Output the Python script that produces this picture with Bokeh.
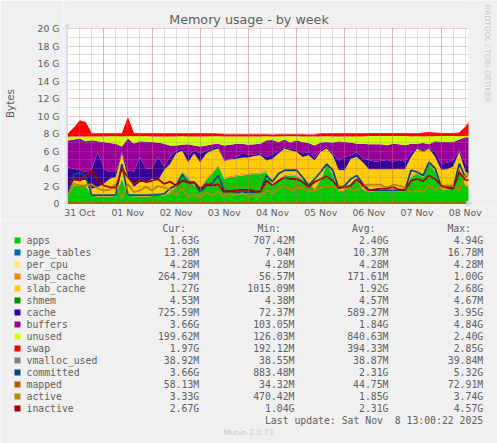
import pandas as pd
from bokeh.core.properties import value
from bokeh.embed import file_html
from bokeh.layouts import column, row
from bokeh.resources import INLINE
from bokeh.plotting import figure
from bokeh.models import (ColumnDataSource, Range1d, FixedTicker, DatetimeTickFormatter,
                          PrintfTickFormatter, Label, BoxAnnotation, PolyAnnotation)

# values in GiB, one sample every three hours
apps = [.8,2.0,2.05,2.0,.9,.8,.8,.8,.85,2.8,.9,.8,.8,.8,.85,.85,.9,1.2,1.9,3.6,2.9,2.0,1.7,2.7,3.4,4.3,2.8,3.0,3.1,3.2,3.3,3.35,3.4,3.6,2.0,2.6,3.1,3.2,3.1,2.7,2.3,1.6,2.7,4.4,3.3,1.4,1.5,2.3,2.8,1.6,1.35,1.35,1.35,1.35,1.35,1.35,1.4,3.0,3.4,3.0,4.5,3.6,1.6,1.6,1.7,4.0,2.0,1.63]
page_tables = [.010,.012,.012,.012,.009,.008,.008,.008,.009,.012,.009,.008,.008,.008,.009,.009,.009,.010,.011,.013,.012,.011,.010,.012,.013,.014,.012,.012,.012,.012,.012,.012,.012,.013,.011,.012,.013,.013,.013,.012,.011,.010,.012,.014,.012,.009,.009,.011,.012,.010,.009,.009,.009,.009,.009,.009,.009,.012,.013,.012,.015,.013,.010,.010,.010,.015,.012,.013]
per_cpu = [.0042]*68
swap_cache = [.12,.15,.15,.15,.15,.15,.15,.16,.16,.15,.17,.18,.16,.16,.15,.15,.15,.15,.15,.15,.15,.15,.15,.15,.15,.15,.15,.15,.15,.15,.15,.15,.15,.15,.15,.15,.15,.15,.15,.15,.15,.15,.15,.15,.15,.15,.15,.15,.15,.15,.20,.20,.20,.20,.20,.20,.20,.15,.15,.15,.15,.15,.20,.20,.20,.15,.20,.265]
slab_cache = [.25,.45,.40,.55,.63,.92,1.30,1.85,2.0,2.75,1.95,.92,1.49,1.49,1.8,1.6,2.75,3.15,3.65,2.25,1.65,3.55,2.85,2.85,2.5,1.8,1.9,1.85,1.85,1.85,1.8,1.9,1.95,1.15,2.95,2.95,3.0,2.7,2.65,2.45,3.05,3.15,3.05,1.7,2.05,2.25,2.15,2.65,2.35,2.95,2.35,2.35,2.35,2.35,2.35,2.35,2.3,2.15,2.7,2.75,1.6,1.55,2.05,2.1,2.3,1.75,1.45,1.27]
shmem = [.0045,.0046,.0046,.0046,.0045,.0045,.0045,.0045,.0045,.0046,.0045,.0045,.0045,.0045,.0045,.0045,.0045,.0045,.0046,.0046,.0046,.0046,.0046,.0046,.0046,.0046,.0046,.0046,.0046,.0046,.0046,.0046,.0046,.0046,.0046,.0046,.0046,.0046,.0046,.0046,.0046,.0046,.0046,.0046,.0046,.0045,.0045,.0045,.0046,.0045,.0045,.0045,.0045,.0045,.0045,.0045,.0045,.0046,.0046,.0046,.0046,.0046,.0045,.0045,.0045,.0046,.0045,.0045]
cache = [2.95,1.36,1.17,.88,2.28,4.0,1.71,.78,.58,.17,.77,1.71,2.86,1.52,1.16,2.7,.35,.8,.3,.25,.8,.3,1.0,.3,.2,.25,.05,.05,.2,.55,.3,.15,.2,.4,.5,.35,.1,.2,.2,.4,.37,.3,.2,.2,.2,1.1,1.5,.4,.57,.4,1.05,.85,.95,1.05,.85,1.05,.85,.4,.2,.15,.1,.57,.7,.75,.75,.2,.9,.726]
buffers = [3.05,3.34,3.63,3.52,3.24,1.23,3.04,3.32,3.22,.63,3.63,3.22,1.8,3.09,3.04,1.65,2.65,1.3,.6,.45,1.25,.6,.8,.6,.5,.3,1.7,1.65,1.5,1.05,1.15,1.2,1.1,1.9,1.65,.95,.95,.7,1.1,1.3,1.03,1.4,.85,.55,1.25,2.2,1.7,1.45,.93,1.7,1.8,2.0,1.9,1.7,2.05,1.8,1.9,1.1,.35,.85,.4,1.23,2.5,2.35,2.05,1.2,3.0,3.66]
unused = [.45,.35,.25,.55,.45,.55,.65,.75,.85,1.15,.25,.85,.55,.6,.65,.7,.85,1.05,1.05,.95,.9,1.05,1.15,1.05,.9,.85,1.05,.95,.85,.85,.95,.9,.85,.45,.4,.65,.35,.7,.45,.65,.75,1.05,.7,.65,.7,.55,.65,.7,.85,.85,.95,.95,.95,1.05,.9,.95,1.05,.85,.85,.75,.9,.55,.65,.7,.7,.35,.15,.2]
swap = [.35,1.0,1.85,1.65,.35,.35,.35,.35,.35,.35,2.2,.35,.35,.35,.35,.35,.35,.35,.35,.35,.35,.35,.35,.35,.35,.33,.23,.23,.23,.23,.23,.23,.23,.23,.23,.23,.23,.23,.23,.23,.23,.23,.35,.35,.35,.35,.35,.35,.35,.35,.35,.35,.35,.35,.35,.35,.35,.35,.35,.43,.5,.43,.35,.35,.35,.45,1.05,1.97]
vmalloc_used = [.038]*68
committed = [1.1,3.3,3.5,3.2,.95,.95,.95,.95,1.0,4.5,1.0,.95,.95,.95,1.0,1.0,1.1,1.7,2.1,3.3,2.3,2.4,1.4,2.0,2.3,3.2,1.5,1.4,1.3,1.3,1.3,1.3,1.4,3.2,2.5,3.4,3.8,3.8,3.8,3.0,2.05,2.8,3.6,4.5,3.8,1.7,2.05,2.8,3.2,2.25,1.55,1.5,1.5,1.5,1.5,1.5,1.5,3.8,3.6,3.2,4.7,4.0,1.9,2.05,1.7,4.55,3.0,3.66]
mapped = [.040,.045,.045,.045,.040,.040,.040,.040,.040,.050,.040,.040,.040,.040,.040,.040,.040,.042,.045,.050,.048,.045,.042,.046,.048,.055,.046,.046,.046,.046,.046,.046,.046,.050,.045,.047,.048,.048,.048,.047,.045,.044,.047,.055,.048,.042,.042,.045,.046,.043,.040,.040,.040,.040,.040,.040,.040,.048,.050,.048,.060,.052,.042,.042,.042,.065,.048,.058]
active = [.9,2.3,2.0,2.1,2.2,1.7,1.5,1.6,2.2,.6,2.2,1.3,1.5,1.9,1.5,2.0,1.8,1.6,.9,1.7,.7,1.1,.65,1.3,.9,1.4,.8,1.0,1.0,1.2,.8,.9,.9,1.5,1.2,1.7,2.05,1.5,1.8,1.7,1.4,1.5,1.8,2.05,1.85,2.05,1.8,1.55,1.55,2.05,2.15,2.15,2.15,1.8,2.15,2.05,1.8,1.3,1.5,1.3,2.05,1.5,2.05,2.05,2.05,1.5,3.2,3.33]
inactive = [2.45,2.8,2.6,3.2,3.8,2.6,2.05,1.87,1.8,4.0,3.0,2.25,2.8,2.45,2.6,2.8,2.25,2.5,2.05,2.6,2.45,2.45,1.7,2.2,2.05,2.2,1.3,1.4,1.5,1.55,1.55,1.4,1.35,2.6,2.1,2.6,3.0,2.8,2.8,2.45,1.87,2.45,2.8,3.1,2.6,1.8,1.87,2.05,2.8,2.05,1.5,1.6,1.7,1.7,1.87,1.6,1.55,2.6,2.8,2.55,3.2,2.8,2.05,1.8,1.7,3.6,2.7,2.67]

stack_names = ["apps", "page_tables", "per_cpu", "swap_cache", "slab_cache", "shmem", "cache", "buffers", "unused", "swap"]
line_names = ["vmalloc_used", "committed", "mapped", "active", "inactive"]
colors = ["#00CC00", "#0066B3", "#FFE17F", "#FF8000", "#FFCC00", "#008F00", "#330099", "#990099", "#CCFF00", "#FF0000",
          "#808080", "#00487D", "#B35A00", "#B38A00", "#A60000"]
cur_labels = ["1.63G","13.28M","4.28M","264.79M","1.27G","4.53M","725.59M","3.66G","199.62M","1.97G","38.92M","3.66G","58.13M","3.33G","2.67G"]
min_labels = ["707.42M","7.04M","4.28M","56.57M","1015.09M","4.38M","72.37M","103.05M","126.03M","192.12M","38.55M","883.48M","34.32M","470.42M","1.04G"]
avg_labels = ["2.40G","10.37M","4.28M","171.61M","1.92G","4.57M","589.27M","1.84G","840.63M","394.33M","38.87M","2.31G","44.75M","1.85G","2.31G"]
max_labels = ["4.94G","16.78M","4.28M","1.00G","2.68G","4.67M","3.95G","4.84G","2.40G","2.85G","39.84M","5.32G","72.91M","3.74G","4.57G"]
y_ticks = list(range(0, 21, 2))
y_minor = list(range(1, 20, 2))

times = pd.date_range("2025-10-31 06:00", periods=len(apps), freq="3h")
source = ColumnDataSource(dict(
    t=times, apps=apps, page_tables=page_tables, per_cpu=per_cpu, swap_cache=swap_cache,
    slab_cache=slab_cache, shmem=shmem, cache=cache, buffers=buffers, unused=unused, swap=swap,
    vmalloc_used=vmalloc_used, committed=committed, mapped=mapped, active=active, inactive=inactive))


def ms(s):
    return pd.Timestamp(s).value / 1e6


BG = "#f0f0f0"
TXT = "#606060"
HOUR = 3600e3
PX_PER_HOUR = 2.008
PX_PER_G = 8.75
T0 = ms("2025-10-31 05:55")       # time at the plot's left edge, pixel 67
FR_L, FR_T, FR_R, FR_B = 63, 0, 497, 206   # frame: leaves room for arrows and title
PL_L, PL_T, PL_R, PL_B = 67, 28, 467, 203  # the visible plot area

p = figure(width=497, height=220, x_axis_type="datetime",
           x_range=Range1d(T0 + (FR_L - PL_L) / PX_PER_HOUR * HOUR, T0 + (FR_R - PL_L) / PX_PER_HOUR * HOUR),
           y_range=Range1d((PL_B - FR_B) / PX_PER_G, (PL_B - FR_T) / PX_PER_G),
           output_backend="svg", toolbar_location=None,
           min_border_left=FR_L, min_border_right=0, min_border_top=0, min_border_bottom=220 - FR_B)
p.background_fill_color = "#ffffff"
p.border_fill_color = BG
p.outline_line_color = None

p.varea_stack(stackers=stack_names, x="t", source=source, color=colors[:10])
for name, col in zip(line_names, colors[10:]):
    p.line("t", name, source=source, line_color=col, line_width=1.8)

noons = [ms(d) + 12 * HOUR for d in pd.date_range("2025-10-31", "2025-11-08")]
midn = [ms(d) for d in pd.date_range("2025-11-01", "2025-11-08")]
six = [ms(d) for d in pd.date_range("2025-10-31 06:00", "2025-11-08 13:00", freq="6h")]

p.xaxis.ticker = FixedTicker(ticks=noons)
fmt = "%d %b"
p.xaxis.formatter = DatetimeTickFormatter(hours=fmt, hourmin=fmt, days=fmt, months=fmt, minutes=fmt, minsec=fmt, seconds=fmt)
p.yaxis.ticker = FixedTicker(ticks=y_ticks, minor_ticks=y_minor)
p.yaxis.formatter = PrintfTickFormatter(format="%d G")
p.yaxis.major_label_overrides = {0: "0"}
for ax in (p.xaxis[0], p.yaxis[0]):
    ax.major_tick_line_color = None
    ax.minor_tick_line_color = None
    ax.major_tick_out = 0
    ax.major_tick_in = 0
    ax.minor_tick_out = 0
    ax.minor_tick_in = 0
    ax.axis_line_color = None
    ax.major_label_text_font = "DejaVu Sans"
    ax.major_label_text_font_size = "9.3px"
    ax.major_label_text_color = TXT
p.yaxis.major_label_standoff = 4
p.xaxis.major_label_standoff = 0
p.yaxis.axis_label = "Bytes"
p.yaxis.axis_label_text_font = "DejaVu Sans"
p.yaxis.axis_label_text_font_style = "normal"
p.yaxis.axis_label_text_font_size = "10.3px"
p.yaxis.axis_label_text_color = TXT
p.yaxis.axis_label_standoff = 19

p.xgrid.ticker = FixedTicker(ticks=midn, minor_ticks=six)
for g in (p.xgrid[0], p.ygrid[0]):
    g.level = "overlay"
    g.grid_line_color = "#e05050"
    g.grid_line_alpha = 0.6
    g.grid_line_dash = [1, 1]
    g.minor_grid_line_color = "#909090"
    g.minor_grid_line_alpha = 0.55
    g.minor_grid_line_dash = [1, 1]


def cover(left, right, top, bottom, color=BG):
    p.add_layout(BoxAnnotation(left=left, right=right, top=top, bottom=bottom,
                               left_units="canvas", right_units="canvas", top_units="canvas", bottom_units="canvas",
                               fill_color=color, fill_alpha=1, line_color=None, level="overlay"))


# everything of the frame outside the plot area keeps the page colour
cover(FR_L, PL_L - 0.5, FR_T, FR_B)
cover(PL_R + 1, FR_R, FR_T, FR_B)
cover(FR_L, FR_R, FR_T, PL_T - 0.5)
cover(FR_L, FR_R, PL_B + 0.5, FR_B)

ARROW = "#d0d8fa"
cover(65.8, 67.2, PL_T - 2, PL_B + 0.5, ARROW)
p.add_layout(PolyAnnotation(xs=[66.7, 64, 69.3], ys=[21.7, 27, 27],
                            xs_units="canvas", ys_units="canvas", fill_color=ARROW, fill_alpha=1, line_color=None, level="overlay"))
p.add_layout(PolyAnnotation(xs=[473, 466, 466], ys=[203, 200, 206],
                            xs_units="canvas", ys_units="canvas", fill_color=ARROW, fill_alpha=1, line_color=None, level="overlay"))


def text(x, y, s, align="center", size="7.6px", color="#c8c8c8", angle=0):
    p.add_layout(Label(x=x, y=y, x_units="canvas", y_units="canvas", text=s, text_align=align,
                       text_baseline="middle", text_font="DejaVu Sans", text_font_size=size, text_color=color,
                       angle=angle, angle_units="deg", level="overlay"))


text(248.5, 19, "Memory usage - by week", size="12.7px", color=TXT)
text(487, 53, "RRDTOOL / TOBI OETIKER", angle=270)

# legend table
L_TOP = 220
leg = figure(width=497, height=443 - L_TOP, x_range=Range1d(0, 497), y_range=Range1d(443, L_TOP),
             x_axis_type=None, y_axis_type=None, output_backend="svg", toolbar_location=None,
             min_border=0, min_border_left=0, min_border_right=0, min_border_top=0, min_border_bottom=0,
             align="start")
p.align = "start"
leg.background_fill_color = BG
leg.border_fill_color = BG
leg.outline_line_color = None
all_names = stack_names + line_names
rows = [240 + 12 * i for i in range(len(all_names))]
leg.quad(left=[14] * len(rows), right=[20] * len(rows), top=[r - 3 for r in rows], bottom=[r + 3 for r in rows],
         fill_color=colors, line_color=None)


def column_text(x, ys, texts, align):
    leg.text(x=[x] * len(texts), y=ys, text=texts, text_align=align, text_baseline="middle",
             text_font=value("DejaVu Sans Mono"), text_font_size="9.8px", text_color=TXT)


column_text(26, rows, all_names, "left")
column_text(198.7, rows, cur_labels, "right")
column_text(294, rows, min_labels, "right")
column_text(388, rows, avg_labels, "right")
column_text(482.7, rows, max_labels, "right")
for right, head in ((185.5, "Cur:"), (280.5, "Min:"), (375, "Avg:"), (470.5, "Max:")):
    column_text(right, [228], [head], "right")
column_text(482.7, [420], ["Last update: Sat Nov\u00a0 8 13:00:22 2025"], "right")
leg.text(x=[248], y=[432], text=["Munin 2.0.73"], text_align="center", text_baseline="middle",
         text_font=value("DejaVu Sans"), text_font_size="7.6px", text_color="#c8c8c8")

open("out.html", "w").write(file_html(column(p, row(leg), spacing=0), INLINE))
